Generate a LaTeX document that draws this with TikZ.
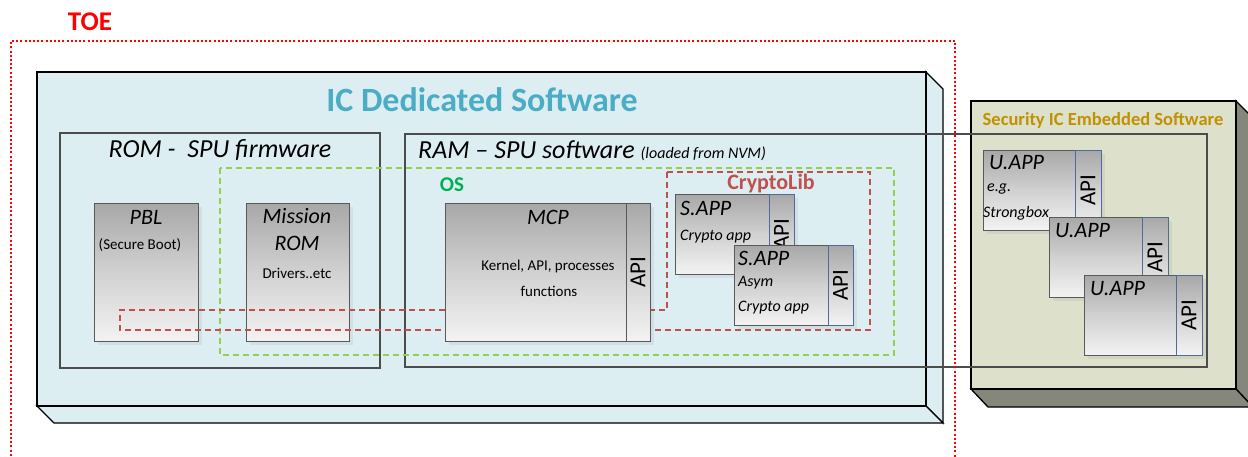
\documentclass[tikz,border=0pt]{standalone}
\usepackage{fontspec}
\setmainfont{Carlito}
\usetikzlibrary{shadows}
\definecolor{icfill}{HTML}{DDEEF3}
\definecolor{icblue}{HTML}{4BACC6}
\definecolor{secfill}{HTML}{DDE0CB}
\definecolor{secside}{HTML}{85877A}
\definecolor{secgold}{HTML}{C09100}
\definecolor{boxgray}{HTML}{595959}
\definecolor{apiblue}{HTML}{4F6B9A}
\definecolor{osgreen}{HTML}{92D050}
\definecolor{ostext}{HTML}{00B050}
\definecolor{crred}{HTML}{C0504D}
\definecolor{toered}{HTML}{FF0000}
\definecolor{gtop}{HTML}{A8A8A8}
\definecolor{gbot}{HTML}{F3F3F3}
\newcommand{\fs}[1]{\fontsize{#1}{#1}\selectfont}
\tikzset{
  frame/.style={draw=boxgray!85!black, line width=1.8pt},
  grad/.style={draw=boxgray, line width=1.2pt, top color=gtop, bottom color=gbot, middle color=gtop!45!gbot,
    drop shadow={shadow xshift=3pt, shadow yshift=-3pt, opacity=0.12}},
  apicol/.style={draw=#1, line width=0.9pt},
  apitxt/.style={rotate=90, font=\fs{23}, inner sep=0pt},
  ttl/.style={font=\fs{22}\itshape, inner sep=0pt},
  bigttl/.style={font=\fs{26}\itshape, inner sep=0pt},
  small/.style={font=\fs{15}, inner sep=0pt},
  smallit/.style={font=\fs{16}\itshape, inner sep=0pt, anchor=west},
  apptitle/.style={font=\fs{22}\itshape, inner sep=0pt, anchor=west},
  dashbox/.style={line width=2.6pt, dash pattern=on 6pt off 4pt},
}
\begin{document}
\begin{tikzpicture}[x=1pt, y=-1pt]
\clip (0,0) rectangle (1248,456);
\fill[white] (0,0) rectangle (1248,456);
% TOE label
\node[font=\fs{27}\bfseries, text=toered, inner sep=0pt] (toe) at (90,22) {TOE};
% IC dedicated 3D box
\draw[fill=icfill, line width=1.3pt] (926,72) -- (943,89) -- (943,423) -- (926,406) -- cycle;
\draw[fill=icfill, line width=1.3pt] (37,406) -- (54,423) -- (943,423) -- (926,406) -- cycle;
\draw[fill=icfill, line width=1.3pt] (37,72) rectangle (926,406);
\node[font=\fs{34}\bfseries, text=icblue, inner sep=0pt] (ictitle) at (482,100) {IC Dedicated Software};
% Security IC 3D box
\draw[fill=secside, line width=1.3pt] (1236,101) -- (1253,118) -- (1253,407) -- (1236,389) -- cycle;
\draw[fill=secside, line width=1.3pt] (971,389) -- (988,407) -- (1253,407) -- (1236,389) -- cycle;
\draw[fill=secfill, line width=1.3pt] (971,101) rectangle (1236,389);
\node[font=\fs{18.5}\bfseries, text=secgold, inner sep=0pt] (sectitle) at (1103,120) {Security IC Embedded Software};
% ROM box
\draw[frame] (60,133) rectangle (380,368);
\node[bigttl] (romtitle) at (220,150) {ROM -\ \ SPU firmware};
% RAM box (spanning into embedded software)
\draw[frame] (405,134) rectangle (1207,367);
\node[anchor=base west, inner sep=0pt] (ramtitle) at (418,158) {\fs{26}\itshape RAM -- SPU software \fs{16}(loaded from NVM)};
% OS
\draw[osgreen, dashbox] (220,168) rectangle (894,355);
\node[font=\fs{21}\bfseries, text=ostext, inner sep=0pt] (ostitle) at (452,185) {OS};
% PBL and Mission ROM
\node[grad, anchor=north west, minimum width=104pt, minimum height=138pt, inner sep=0pt] (pbl) at (94,203) {};
\node[ttl] (pblt) at (146,217) {PBL};
\node[small] (pbls) at (140,245) {(Secure Boot)};
\node[grad, anchor=north west, minimum width=103pt, minimum height=138pt, inner sep=0pt] (mrom) at (246,203) {};
\node[ttl] (mromt1) at (297,216) {Mission};
\node[ttl] (mromt2) at (297,243) {ROM};
\node[small] (mroms) at (297,273) {Drivers..etc};
% CryptoLib
\draw[crred, dashbox] (667,172) -- (870,172) -- (870,330) -- (120,330) -- (120,310) -- (667,310) -- cycle;
\node[font=\fs{22}\bfseries, text=crred, inner sep=0pt] (crtitle) at (771,184) {CryptoLib};
% MCP
\node[grad, anchor=north west, minimum width=205pt, minimum height=138pt, inner sep=0pt] (mcp) at (445,203) {};
\draw[apicol=boxgray] (626,203) rectangle (650,341);
\node[apitxt] (mcpapi) at (638,272) {API};
\node[ttl] (mcpt) at (548,217) {MCP};
\node[small] (mcps1) at (548,266) {Kernel, API, processes};
\node[small] (mcps2) at (549,291) {functions};
% S.APP 1
\node[grad, anchor=north west, minimum width=119pt, minimum height=80pt, inner sep=0pt] (sapp1) at (675,194) {};
\draw[apicol=apiblue] (769,194) rectangle (794,274);
\node[apitxt] (sapp1api) at (781.5,234) {API};
\node[apptitle] (sapp1t) at (680,208) {S.APP};
\node[smallit] (sapp1s) at (680,237) {Crypto app};
% S.APP 2
\node[grad, anchor=north west, minimum width=119pt, minimum height=80pt, inner sep=0pt] (sapp2) at (734,245) {};
\draw[apicol=apiblue] (828,245) rectangle (853,325);
\node[apitxt] (sapp2api) at (840.5,285) {API};
\node[apptitle] (sapp2t) at (738,258) {S.APP};
\node[smallit] (sapp2s1) at (738,283) {Asym};
\node[smallit] (sapp2s2) at (738,308) {Crypto app};
% U.APP 1
\node[grad, anchor=north west, minimum width=118pt, minimum height=80pt, inner sep=0pt] (uapp1) at (983,150) {};
\draw[apicol=apiblue] (1075,150) rectangle (1101,230);
\node[apitxt] (uapp1api) at (1088,190) {API};
\node[apptitle] (uapp1t) at (989,163) {U.APP};
\node[smallit] (uapp1s1) at (987,189) {e.g.};
\node[smallit] (uapp1s2) at (983,213) {Strongbox};
% U.APP 2
\node[grad, anchor=north west, minimum width=119pt, minimum height=80pt, inner sep=0pt] (uapp2) at (1049,217) {};
\draw[apicol=apiblue] (1142,217) rectangle (1168,297);
\node[apitxt] (uapp2api) at (1155,257) {API};
\node[apptitle] (uapp2t) at (1055,231) {U.APP};
% U.APP 3
\node[grad, anchor=north west, minimum width=118pt, minimum height=80pt, inner sep=0pt] (uapp3) at (1084,275) {};
\draw[apicol=apiblue] (1176,275) rectangle (1202,355);
\node[apitxt] (uapp3api) at (1189,315) {API};
\node[apptitle] (uapp3t) at (1090,289) {U.APP};
% TOE dotted boundary
\draw[toered, line width=2pt, dash pattern=on 2pt off 2.2pt] (11,460) -- (11,41) -- (955,41) -- (955,460);
\end{tikzpicture}
\end{document}
